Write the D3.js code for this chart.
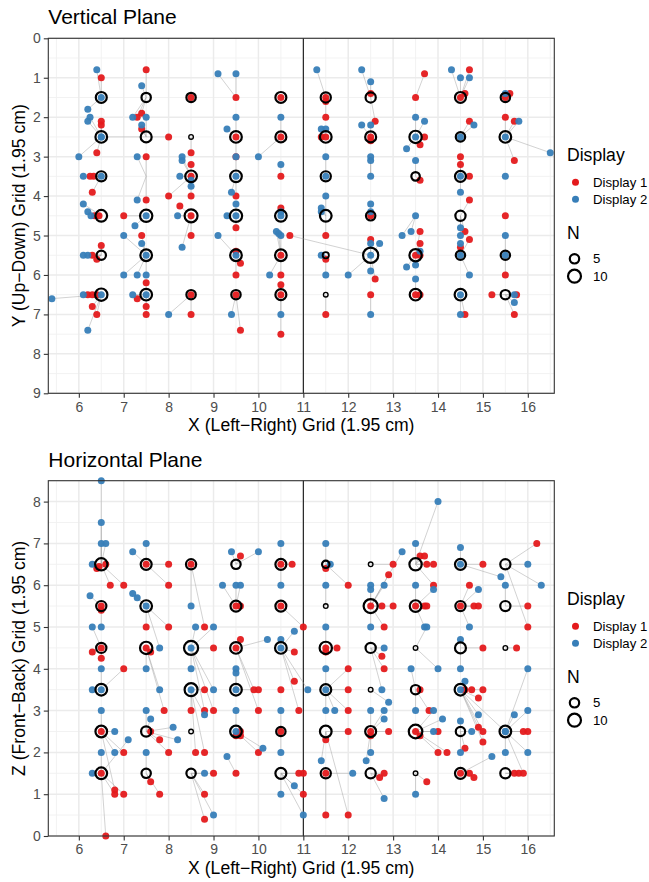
<!DOCTYPE html>
<html>
<head>
<meta charset="utf-8">
<script src="https://cdn.jsdelivr.net/npm/d3@7"></script>
<style>
  body { margin: 0; background: #fff; }
  svg { display: block; }
  text { font-family: "Liberation Sans", Arial, Helvetica, sans-serif; }
</style>
</head>
<body>
<svg id="chart" width="649" height="882"></svg>
<script>
// ---- Data -------------------------------------------------------------
// Each response: [responseX, responseY, targetX, targetY]
const displays = ["Display 1", "Display 2"];
const displayColors = ["#E41A1C", "#377EB8"];
const xTicks = [6, 7, 8, 9, 10, 11, 12, 13, 14, 15, 16];
const vertYTicks = [0, 1, 2, 3, 4, 5, 6, 7, 8, 9];
const horzZTicks = [0, 1, 2, 3, 4, 5, 6, 7, 8];
const sizeLegendValues = [5, 10];

const vertDisplay1 = [
  [6.5,1.0,6.5,1.5],[6.5,2.1,6.5,2.5],[6.5,2.2,6.5,2.5],[6.4,2.9,6.5,2.5],
  [6.25,3.5,6.5,3.5],[6.33,3.5,6.5,3.5],[6.3,3.9,6.5,3.5],
  [6.35,4.5,6.5,4.5],[6.45,4.5,6.5,4.5],[6.5,5.25,6.5,5.5],[6.3,5.5,6.5,5.5],[6.4,5.6,6.5,5.5],
  [6.2,6.5,6.5,6.5],[6.3,6.5,6.5,6.5],[6.4,6.5,6.5,6.5],[6.3,6.8,6.5,6.5],[6.4,7.0,6.5,6.5],
  [7.5,0.8,7.5,1.5],[7.3,2.0,7.5,1.5],[7.4,1.9,7.5,1.5],[7.4,2.3,7.5,2.5],[8.0,2.5,7.5,2.5],
  [7.5,3.0,7.5,3.5],[7.5,4.1,7.5,3.5],[7.0,4.5,7.5,4.5],[7.4,5.0,7.5,5.5],
  [7.5,6.2,7.5,6.5],[7.3,6.6,7.5,6.5],[7.5,6.8,7.5,6.5],[7.5,7.0,7.5,6.5],
  [8.5,1.5,8.5,1.5],[8.5,2.9,8.5,2.5],[8.5,3.2,8.5,3.5],[8.5,3.5,8.5,3.5],[8.0,4.0,8.5,3.5],[8.5,4.0,8.5,3.5],
  [8.25,4.25,8.5,4.5],[8.5,4.5,8.5,4.5],[8.5,5.0,8.5,4.5],[8.5,6.5,8.5,6.5],[8.5,7.0,8.5,6.5],
  [9.5,1.5,9.5,1.5],[9.5,2.5,9.5,2.5],[9.5,3.0,9.5,2.5],[9.5,4.0,9.5,3.5],[9.5,4.8,9.5,4.5],
  [9.5,5.4,9.5,5.5],[9.6,5.7,9.5,5.5],[9.5,6.0,9.5,5.5],[9.5,6.5,9.5,6.5],[9.6,7.4,9.5,6.5],
  [10.5,1.5,10.5,1.5],[10.5,2.5,10.5,2.5],[10.5,3.5,10.5,3.5],[10.5,4.3,10.5,4.5],[10.7,5.0,12.5,5.5],
  [10.5,5.5,10.5,5.5],[10.5,6.0,10.5,5.5],[10.5,6.25,10.5,6.5],[10.5,6.5,10.5,6.5],[10.5,7.5,10.5,6.5],
  [11.5,1.5,11.5,1.5],[11.5,1.6,11.5,1.5],[11.5,2.0,11.5,1.5],[11.4,2.5,11.5,2.5],[11.5,2.5,11.5,2.5],
  [11.5,5.0,11.5,4.5],[11.5,5.6,11.5,5.5],[11.5,7.0,11.5,6.5],
  [12.5,1.4,12.5,1.5],[12.6,2.1,12.5,1.5],[12.5,2.5,12.5,2.5],[12.5,2.6,12.5,2.5],[12.5,4.5,12.5,4.5],
  [12.5,5.1,12.5,5.5],[12.6,6.1,12.5,5.5],[12.5,6.5,12.5,6.5],
  [13.7,0.9,13.5,1.5],[13.5,1.5,13.5,1.5],[13.7,2.5,13.5,2.5],[13.6,2.7,13.5,2.5],[13.6,3.6,13.5,3.5],
  [13.6,4.9,13.5,5.5],[13.6,5.2,13.5,5.5],[13.5,5.5,13.5,5.5],[13.6,5.5,13.5,5.5],[13.5,6.5,13.5,6.5],[13.6,6.5,13.5,6.5],
  [14.7,0.8,14.5,1.5],[14.6,1.4,14.5,1.5],[14.5,1.5,14.5,1.5],[14.7,2.1,14.5,2.5],[14.5,3.0,14.5,3.5],[14.5,3.2,14.5,3.5],
  [14.7,3.5,14.5,3.5],[14.7,4.1,14.5,4.5],[14.6,4.9,14.5,4.5],[14.7,5.1,14.5,5.5],[14.5,5.3,14.5,5.5],[14.6,7.0,14.5,6.5],
  [15.6,1.4,15.5,1.5],[15.5,1.5,15.5,1.5],[15.5,2.0,15.5,2.5],[15.7,2.1,15.5,2.5],[15.7,3.1,15.5,2.5],
  [15.5,4.5,15.5,4.5],[15.5,6.0,15.5,5.5],[15.2,6.5,15.5,6.5],[15.75,6.5,15.5,6.5],[15.7,7.0,15.5,6.5]
];

const vertDisplay2 = [
  [6.4,0.8,6.5,1.5],[6.5,1.5,6.5,1.5],[6.2,1.8,6.5,1.5],[6.25,2.0,6.5,2.5],[6.2,2.1,6.5,2.5],[6.5,2.5,6.5,2.5],
  [6.5,2.5,7.5,2.5],[6.0,3.0,6.5,2.5],[6.1,3.5,6.5,3.5],[6.5,3.5,6.5,3.5],
  [6.1,4.2,6.5,4.5],[6.2,4.4,6.5,4.5],[6.27,4.5,6.5,4.5],[6.1,5.5,6.5,5.5],[6.2,5.5,6.5,5.5],
  [5.4,6.6,6.5,6.5],[6.1,6.5,6.5,6.5],[6.5,6.5,6.5,6.5],[6.2,7.4,6.5,6.5],
  [7.4,1.2,7.5,1.5],[7.2,2.0,7.5,1.5],[7.5,2.0,7.5,2.5],[7.4,2.2,7.5,2.5],[7.3,3.0,7.5,3.5],[7.3,4.1,7.5,3.5],
  [7.5,4.5,7.5,4.5],[7.25,4.75,7.5,4.5],[7.0,5.0,7.5,5.5],[7.4,5.2,7.5,5.5],[7.5,5.5,7.5,5.5],
  [7.0,6.0,7.5,5.5],[7.3,6.0,7.5,5.5],[7.5,6.0,7.5,5.5],[7.2,6.5,7.5,6.5],[7.5,6.5,7.5,6.5],
  [8.3,3.0,8.5,3.5],[8.3,3.1,8.5,3.5],[8.25,3.5,8.5,3.5],[8.5,3.6,8.5,3.5],[8.5,3.75,8.5,3.5],
  [8.2,4.5,8.5,4.5],[8.3,5.3,8.5,4.5],[8.0,7.0,8.5,6.5],
  [9.1,0.9,9.5,1.5],[9.5,0.9,9.5,1.5],[9.5,2.0,9.5,2.5],[9.3,2.3,9.5,2.5],[10.0,3.0,10.5,2.5],[9.5,3.0,9.5,3.5],
  [9.5,3.5,9.5,3.5],[9.4,3.9,9.5,3.5],[9.5,4.2,9.5,4.5],[9.3,4.5,9.5,4.5],[9.5,4.5,9.5,4.5],
  [9.1,5.0,9.5,5.5],[9.5,5.5,9.5,5.5],[9.4,7.0,9.5,6.5],
  [10.5,2.0,10.5,2.5],[10.5,3.2,10.5,3.5],[10.5,4.4,10.5,4.5],[10.5,4.5,10.5,4.5],
  [10.4,4.9,10.5,5.5],[10.45,4.95,10.5,5.5],[10.5,5.0,10.5,5.5],[10.25,6.0,10.5,5.5],[10.5,7.0,10.5,6.5],
  [11.3,0.8,11.5,1.5],[11.4,2.3,11.5,2.5],[11.5,2.3,11.5,2.5],[11.5,3.0,11.5,3.5],[11.5,3.5,11.5,3.5],
  [11.5,4.0,11.5,4.5],[11.4,4.3,11.5,4.5],[11.4,4.4,11.5,4.5],[11.4,5.5,11.5,5.5],[11.5,6.0,11.5,5.5],
  [12.3,0.8,12.5,1.5],[12.5,1.1,12.5,1.5],[12.3,2.2,12.5,2.5],[12.5,2.2,12.5,2.5],[12.5,3.0,12.5,3.5],
  [12.5,3.1,12.5,3.5],[12.5,3.5,12.5,3.5],[12.5,4.2,12.5,4.5],[12.5,4.4,12.5,4.5],
  [12.5,5.2,12.5,5.5],[12.7,5.2,12.5,5.5],[12.5,5.5,12.5,5.5],[12.5,5.9,12.5,5.5],[12.0,6.0,12.5,5.5],[12.5,7.0,12.5,6.5],
  [13.5,2.0,13.5,2.5],[13.7,2.1,13.5,2.5],[13.5,2.5,13.5,2.5],[13.3,2.8,13.5,2.5],[13.5,3.1,13.5,3.5],
  [13.5,4.5,13.5,4.5],[13.4,4.9,13.5,4.5],[13.2,5.0,13.5,4.5],[13.6,5.4,13.5,5.5],[13.3,5.8,13.5,5.5],
  [13.5,5.75,13.5,5.5],[13.5,6.1,13.5,6.5],
  [14.3,0.8,14.5,1.5],[14.5,1.0,14.5,1.5],[14.7,1.0,14.5,1.5],[14.8,2.2,14.5,2.5],[14.5,2.5,14.5,2.5],
  [14.5,3.5,14.5,3.5],[14.5,3.9,14.5,3.5],[14.5,4.8,14.5,4.5],[14.5,5.0,14.5,4.5],[14.5,5.2,14.5,5.5],
  [14.5,5.5,14.5,5.5],[14.7,6.0,14.5,5.5],[14.5,6.5,14.5,6.5],[14.5,7.0,14.5,6.5],
  [15.5,1.4,15.5,1.5],[15.8,2.1,15.5,2.5],[15.5,2.5,15.5,2.5],[16.5,2.9,15.5,2.5],[15.5,3.5,15.5,3.5],
  [15.5,5.0,15.5,5.5],[15.5,5.5,15.5,5.5],[15.7,6.5,15.5,6.5],[15.7,6.7,15.5,6.5]
];

const horzDisplay1 = [
  [6.4,6.4,6.5,6.5],[6.45,6.45,6.5,6.5],[6.6,6.5,6.5,6.5],[6.7,6.0,6.5,6.5],[7.0,6.0,6.5,6.5],
  [6.5,5.5,6.5,5.5],[6.5,5.4,6.5,5.5],[6.5,4.5,6.5,4.5],[6.3,4.4,6.5,4.5],[6.5,4.25,6.5,4.5],
  [7.0,4.0,6.5,3.5],[6.5,2.5,6.5,2.5],[7.0,2.0,6.5,2.5],[6.5,1.5,6.5,1.5],
  [6.8,1.1,6.5,2.5],[6.8,1.0,6.5,1.5],[7.0,1.0,6.5,1.5],[6.6,0.0,6.5,1.5],
  [7.5,6.5,7.5,6.5],[8.0,6.5,7.5,6.5],[8.0,6.0,7.5,6.5],[7.5,5.0,7.5,5.5],[8.0,5.0,7.5,5.5],
  [7.5,4.5,7.5,4.5],[7.6,4.4,7.5,4.5],[7.9,3.0,7.5,4.5],[7.6,2.5,7.5,2.5],[7.8,2.3,7.5,2.5],
  [8.0,2.0,7.5,2.5],[7.6,1.3,7.5,1.5],[7.8,1.0,7.5,1.5],
  [8.5,6.5,8.5,6.5],[8.8,5.0,8.5,6.5],[9.0,4.5,8.5,4.5],[8.8,3.5,8.5,3.5],[8.5,3.0,8.5,3.5],
  [8.8,3.0,8.5,4.5],[9.0,3.0,8.5,4.5],[8.6,2.0,8.5,3.5],[8.8,2.0,8.5,3.5],[9.0,1.5,8.5,1.5],
  [8.8,1.0,8.5,1.5],[8.8,0.4,8.5,1.5],
  [9.6,6.7,9.5,6.5],[9.5,5.5,9.5,5.5],[9.6,5.5,9.5,5.5],[9.6,4.7,9.5,4.5],[9.5,4.5,9.5,4.5],
  [9.9,3.5,9.5,4.5],[10.0,3.5,9.5,3.5],[10.0,3.0,9.5,4.5],[9.6,2.5,9.5,2.5],[9.5,2.4,9.5,2.5],
  [9.6,2.4,9.5,2.5],[10.0,2.0,9.5,2.5],[9.5,1.5,9.5,1.5],
  [10.5,6.5,10.5,6.5],[10.75,6.5,10.5,6.5],[10.5,5.5,10.5,5.5],[11.0,5.0,10.5,5.5],[10.8,4.4,10.5,4.5],
  [10.8,3.7,10.5,4.5],[10.9,3.0,10.5,4.5],[10.5,3.5,10.5,3.5],[10.5,2.5,10.5,2.5],
  [10.9,1.5,10.5,1.5],[11.0,1.5,10.5,1.5],[11.0,1.0,10.5,1.5],
  [11.5,6.4,11.5,6.5],[12.0,6.0,11.5,6.5],[11.5,4.5,11.5,4.5],[11.75,4.5,11.5,4.5],[11.5,4.4,11.5,4.5],
  [12.0,4.0,11.5,3.5],[12.0,3.5,11.5,3.5],[12.0,3.0,11.5,3.5],[12.0,2.5,11.5,2.5],[11.5,2.3,11.5,2.5],
  [11.5,1.5,11.5,1.5],[11.5,0.5,11.5,1.5],[12.0,0.5,11.5,2.5],
  [13.0,6.5,12.5,6.5],[12.9,6.25,12.5,5.5],[12.5,5.5,12.5,5.5],[12.75,5.5,12.5,5.5],[13.0,5.5,12.5,5.5],
  [12.8,5.0,12.5,5.5],[12.75,4.3,12.5,4.5],[12.8,4.0,12.5,4.5],[12.5,2.5,12.5,2.5],[12.9,2.5,12.5,2.5],
  [12.5,2.4,12.5,2.5],[12.8,1.5,12.5,1.5],[12.7,1.4,12.5,1.5],
  [13.6,6.7,13.5,6.5],[13.7,6.7,13.5,6.5],[13.75,6.5,13.5,6.5],[13.9,6.5,13.5,6.5],[13.9,6.0,13.5,6.5],
  [13.5,5.5,13.5,5.5],[13.7,5.5,13.5,5.5],[13.75,5.5,13.5,5.5],[13.6,3.5,13.5,3.5],[13.8,3.0,13.5,3.5],
  [13.5,2.5,13.5,2.5],[13.6,2.4,13.5,2.5],[14.0,2.5,13.5,2.5],[14.0,2.0,13.5,2.5],[14.2,2.0,13.5,2.5],[13.75,1.3,13.5,1.5],
  [15.0,6.5,14.5,6.5],[14.7,6.0,14.5,5.5],[14.5,5.5,14.5,5.5],[14.8,5.5,14.5,5.5],[14.9,5.5,14.5,5.5],
  [15.0,4.5,14.5,4.5],[14.6,3.5,14.5,3.5],[14.75,3.5,14.5,3.5],[15.0,3.5,14.5,3.5],[14.9,3.3,14.5,3.5],
  [14.9,2.6,14.5,3.5],[15.0,2.5,14.5,3.5],[15.0,2.25,14.5,3.5],[14.6,2.1,14.5,2.5],
  [14.5,1.5,14.5,1.5],[14.7,1.5,14.5,1.5],[14.8,1.4,14.5,1.5],
  [16.2,7.0,15.5,6.5],[16.0,5.5,15.5,5.5],[16.0,5.0,15.5,6.5],[15.75,4.5,15.5,4.5],[15.9,2.5,15.5,2.5],
  [16.0,2.5,15.5,2.5],[15.7,1.5,15.5,1.5],[15.8,1.5,15.5,1.5],[15.9,1.5,15.5,2.5]
];

const horzDisplay2 = [
  [6.5,8.5,6.5,6.5],[6.5,7.5,6.5,6.5],[6.5,7.0,6.5,6.5],[6.6,7.0,6.5,6.5],[6.3,6.5,6.5,6.5],
  [6.25,5.75,6.5,5.5],[6.3,5.0,6.5,4.5],[6.5,5.0,6.5,5.5],[6.5,4.0,6.5,3.5],[6.3,3.5,6.5,3.5],
  [6.5,3.5,6.5,3.5],[6.5,3.0,6.5,2.5],[6.8,2.5,6.5,2.5],[7.1,2.3,6.5,1.5],[6.5,2.0,6.5,1.5],
  [6.8,2.0,6.5,2.5],[6.3,1.5,6.5,1.5],
  [7.2,6.8,7.5,6.5],[7.5,7.0,7.5,6.5],[7.2,5.8,7.5,5.5],[7.3,5.7,7.5,5.5],[7.5,5.5,7.5,5.5],
  [7.8,4.5,7.5,5.5],[7.5,4.0,7.5,4.5],[7.8,3.5,7.5,4.5],[7.5,3.0,7.5,2.5],[7.6,2.8,7.5,2.5],
  [8.1,2.6,7.5,2.5],[8.2,2.3,7.5,2.5],[7.5,2.0,7.5,1.5],
  [8.5,5.5,8.5,6.5],[8.6,5.0,8.5,4.5],[9.0,5.0,8.5,4.5],[8.5,4.5,8.5,4.5],[8.5,4.0,8.5,4.5],
  [8.5,3.5,8.5,3.5],[9.0,3.5,8.5,4.5],[8.8,2.9,8.5,3.5],[8.8,1.5,8.5,1.5],[9.0,0.5,8.5,1.5],
  [9.4,6.8,9.5,6.5],[10.0,6.8,9.5,6.5],[9.2,6.0,9.5,5.5],[9.5,6.0,9.5,5.5],[9.6,6.0,9.5,5.5],
  [10.2,4.7,9.5,4.5],[9.5,4.0,9.5,3.5],[9.5,3.9,9.5,3.5],[9.5,3.5,9.5,3.5],[9.5,3.0,9.5,2.5],
  [9.5,2.5,9.5,2.5],[10.1,2.1,9.5,2.5],[9.3,1.9,9.5,1.5],
  [10.5,7.0,10.5,6.5],[10.5,6.0,10.5,6.5],[10.8,4.9,10.5,4.5],[10.5,4.7,10.5,4.5],[10.5,4.5,10.5,4.5],
  [11.1,3.5,10.5,4.5],[10.5,3.0,10.5,2.5],[10.5,2.0,10.5,2.5],[10.8,1.2,10.5,1.5],[10.5,1.0,10.5,1.5],[11.0,0.5,10.5,1.5],
  [11.5,7.0,11.5,6.5],[11.6,6.5,11.5,6.5],[11.5,6.0,11.5,5.5],[11.5,5.0,11.5,4.5],[11.5,4.0,11.5,3.5],
  [11.5,3.5,11.5,3.5],[11.5,3.0,11.5,3.5],[11.7,3.0,11.5,3.5],[11.4,1.8,11.5,2.5],[12.1,1.5,11.5,1.5],
  [13.2,6.8,12.5,5.5],[12.5,6.0,12.5,5.5],[12.5,5.9,12.5,5.5],[12.8,6.0,12.5,5.5],[12.5,5.0,12.5,5.5],
  [12.8,4.5,12.5,4.5],[12.75,3.5,12.5,4.5],[12.9,3.2,12.5,3.5],[12.5,3.0,12.5,2.5],[12.8,3.0,12.5,2.5],
  [12.8,2.8,12.5,2.5],[12.5,2.0,12.5,2.5],[12.4,1.8,12.5,2.5],[12.8,0.9,12.5,1.5],
  [14.0,8.0,13.5,6.5],[13.5,7.0,13.5,6.5],[13.5,6.0,13.5,5.5],[13.9,5.9,13.5,5.5],[13.7,5.0,13.5,5.5],
  [13.75,5.0,13.5,4.5],[13.4,4.0,13.5,3.5],[14.0,4.0,13.5,4.5],[13.5,3.0,13.5,3.5],[13.9,3.0,13.5,2.5],
  [14.1,2.8,13.5,2.5],[13.9,2.5,13.5,2.5],[13.5,1.0,13.5,1.5],
  [14.5,6.9,14.5,6.5],[14.5,6.5,14.5,6.5],[15.4,6.2,14.5,6.5],[14.9,5.9,14.5,5.5],[14.7,5.0,14.5,5.5],
  [14.5,4.7,14.5,4.5],[14.5,4.0,14.5,4.5],[14.6,3.7,14.5,3.5],[14.5,3.5,14.5,3.5],[14.9,2.9,14.5,3.5],
  [14.5,2.75,14.5,2.5],[14.75,2.5,14.5,2.5],[14.5,2.0,14.5,2.5],[15.2,1.9,14.5,1.5],[15.5,2.5,14.5,3.5],
  [16.0,6.5,15.5,6.5],[15.5,6.0,15.5,5.5],[16.3,6.0,15.5,6.5],[16.0,4.0,15.5,2.5],[15.5,2.5,15.5,2.5],
  [16.0,3.0,15.5,2.5],[15.7,2.9,15.5,2.5],[15.5,2.0,15.5,2.5],[16.0,2.0,15.5,2.5]
];

// Targets: [x, y, N]
const vertTargets = [
  [6.5,1.5,7],[7.5,1.5,5],[8.5,1.5,5],[10.5,1.5,7],[11.5,1.5,6],[12.5,1.5,6],[14.5,1.5,7],[15.5,1.5,5],
  [6.5,2.5,8],[7.5,2.5,7],[8.5,2.5,1],[9.5,2.5,8],[10.5,2.5,7],[11.5,2.5,8],[12.5,2.5,7],[13.5,2.5,9],[14.5,2.5,5],[15.5,2.5,8],
  [6.5,3.5,6],[8.5,3.5,8],[9.5,3.5,8],[11.5,3.5,6],[13.5,3.5,4],[14.5,3.5,7],
  [6.5,4.5,8],[7.5,4.5,9],[8.5,4.5,10],[9.5,4.5,9],[10.5,4.5,8],[11.5,4.5,8],[12.5,4.5,5],[14.5,4.5,6],
  [6.5,5.5,5],[7.5,5.5,8],[9.5,5.5,8],[10.5,5.5,8],[11.5,5.5,2],[12.5,5.5,14],[13.5,5.5,9],[14.5,5.5,5],[15.5,5.5,5],
  [6.5,6.5,9],[7.5,6.5,8],[8.5,6.5,5],[9.5,6.5,5],[10.5,6.5,7],[11.5,6.5,1],[13.5,6.5,8],[14.5,6.5,8],[15.5,6.5,5]
];

const horzTargets = [
  [6.5,6.5,9],[7.5,6.5,7],[8.5,6.5,6],[9.5,6.5,5],[10.5,6.5,7],[11.5,6.5,3],[12.5,6.5,1],[13.5,6.5,9],[14.5,6.5,7],[15.5,6.5,6],
  [6.5,5.5,6],[7.5,5.5,8],[9.5,5.5,7],[10.5,5.5,7],[11.5,5.5,1],[12.5,5.5,12],[13.5,5.5,8],[14.5,5.5,6],[15.5,5.5,6],
  [6.5,4.5,6],[7.5,4.5,9],[8.5,4.5,12],[9.5,4.5,8],[10.5,4.5,8],[11.5,4.5,9],[12.5,4.5,6],[13.5,4.5,1],[14.5,4.5,7],[15.5,4.5,1],
  [6.5,3.5,8],[8.5,3.5,10],[9.5,3.5,8],[11.5,3.5,7],[12.5,3.5,1],[13.5,3.5,5],[14.5,3.5,8],
  [6.5,2.5,8],[7.5,2.5,6],[8.5,2.5,1],[9.5,2.5,8],[10.5,2.5,5],[11.5,2.5,8],[12.5,2.5,7],[13.5,2.5,11],[14.5,2.5,5],[15.5,2.5,8],
  [6.5,1.5,8],[7.5,1.5,5],[8.5,1.5,5],[10.5,1.5,7],[11.5,1.5,6],[12.5,1.5,6],[13.5,1.5,1],[14.5,1.5,7],[15.5,1.5,6]
];

// ---- Drawing ----------------------------------------------------------
const svg = d3.select("#chart");
const xDomain = [5.32, 16.59];
const sizeScale = d3.scaleSqrt().domain([1, 14]).range([2.3, 7.6]);
const ringWidth = r => Math.min(2.2, r * 0.6);
const TEXT_GREY = "#4D4D4D";

function drawPanel(cfg) {
  const g = svg.append("g");
  const x = d3.scaleLinear().domain(xDomain).range([cfg.left, cfg.right]);
  const y = d3.scaleLinear().domain(cfg.yDomain).range(cfg.yRange);
  const top = Math.min(...cfg.yRange), bottom = Math.max(...cfg.yRange);
  const yMax = Math.max(...cfg.yDomain);

  // panel background + grid
  g.append("rect").attr("x", cfg.left).attr("y", top)
    .attr("width", cfg.right - cfg.left).attr("height", bottom - top).attr("fill", "#fff");

  const xMinor = d3.range(5.5, 16.6, 1);
  const yMinor = d3.range(0.5, yMax + 0.01, 1);
  const grid = g.append("g");
  grid.selectAll(".xminor").data(xMinor).join("line")
    .attr("x1", d => x(d)).attr("x2", d => x(d)).attr("y1", top).attr("y2", bottom)
    .attr("stroke", "#F0F0F0").attr("stroke-width", 0.9);
  grid.selectAll(".yminor").data(yMinor).join("line")
    .attr("x1", cfg.left).attr("x2", cfg.right).attr("y1", d => y(d)).attr("y2", d => y(d))
    .attr("stroke", "#F0F0F0").attr("stroke-width", 0.9);
  grid.selectAll(".xmajor").data(xTicks).join("line")
    .attr("x1", d => x(d)).attr("x2", d => x(d)).attr("y1", top).attr("y2", bottom)
    .attr("stroke", "#EBEBEB").attr("stroke-width", 1.5);
  grid.selectAll(".ymajor").data(cfg.yTicks).join("line")
    .attr("x1", cfg.left).attr("x2", cfg.right).attr("y1", d => y(d)).attr("y2", d => y(d))
    .attr("stroke", "#EBEBEB").attr("stroke-width", 1.5);

  // midline at x = 11
  g.append("line").attr("x1", x(11)).attr("x2", x(11)).attr("y1", top).attr("y2", bottom)
    .attr("stroke", "#000").attr("stroke-width", 1);

  const all = [];
  cfg.series.forEach((arr, i) => arr.forEach(d => all.push({ rx: d[0], ry: d[1], tx: d[2], ty: d[3], k: i })));

  // segments from target to response
  g.append("g").selectAll("line").data(all).join("line")
    .attr("x1", d => x(d.tx)).attr("y1", d => y(d.ty))
    .attr("x2", d => x(d.rx)).attr("y2", d => y(d.ry))
    .attr("stroke", "#A0A0A0").attr("stroke-opacity", 0.6).attr("stroke-width", 0.8);

  // responses
  g.append("g").selectAll("circle").data(all).join("circle")
    .attr("cx", d => x(d.rx)).attr("cy", d => y(d.ry)).attr("r", 3.5)
    .attr("fill", d => displayColors[d.k]).attr("fill-opacity", 0.95);

  // targets sized by N
  g.append("g").selectAll("circle").data(cfg.targets).join("circle")
    .attr("cx", d => x(d[0])).attr("cy", d => y(d[1])).attr("r", d => sizeScale(d[2]))
    .attr("fill", "none").attr("stroke", "#000").attr("stroke-width", d => ringWidth(sizeScale(d[2])));

  // border
  g.append("rect").attr("x", cfg.left).attr("y", top)
    .attr("width", cfg.right - cfg.left).attr("height", bottom - top)
    .attr("fill", "none").attr("stroke", "#333333").attr("stroke-width", 1.1);

  // axes
  const xAxis = g.append("g").attr("transform", `translate(0,${bottom})`)
    .call(d3.axisBottom(x).tickValues(xTicks).tickSize(4.5).tickPadding(4).tickFormat(d3.format("d")));
  const yAxis = g.append("g").attr("transform", `translate(${cfg.left},0)`)
    .call(d3.axisLeft(y).tickValues(cfg.yTicks).tickSize(4.5).tickPadding(3).tickFormat(d3.format("d")));
  [xAxis, yAxis].forEach(a => {
    a.select(".domain").remove();
    a.selectAll(".tick line").attr("stroke", "#333333").attr("stroke-width", 1.1);
    a.selectAll(".tick text").attr("fill", TEXT_GREY).style("font-size", "14px")
      .style("font-family", "'Liberation Sans', Arial, sans-serif");
  });

  // titles
  g.append("text").attr("x", cfg.left).attr("y", top - 14).text(cfg.title)
    .style("font-size", "21px").attr("fill", "#000");
  g.append("text").attr("x", (cfg.left + cfg.right) / 2).attr("y", bottom + 38)
    .attr("text-anchor", "middle").style("font-size", "17.6px").text("X (Left\u2212Right) Grid (1.95 cm)");
  g.append("text").attr("transform", `translate(25,${(top + bottom) / 2}) rotate(-90)`)
    .attr("text-anchor", "middle").style("font-size", "17.6px").text(cfg.yTitle);

  // legend
  const lg = g.append("g").attr("transform", `translate(567,${cfg.legendTop})`);
  lg.append("text").attr("x", 0).attr("y", 0).style("font-size", "17.6px").text("Display");
  displays.forEach((name, i) => {
    const yy = 21 + i * 17;
    lg.append("circle").attr("cx", 8.5).attr("cy", yy).attr("r", 3.5).attr("fill", displayColors[i]);
    lg.append("text").attr("x", 26).attr("y", yy + 4.7).style("font-size", "13.2px").text(name);
  });
  lg.append("text").attr("x", 0).attr("y", 77.8).style("font-size", "17.6px").text("N");
  sizeLegendValues.forEach((v, i) => {
    const yy = 97.5 + i * 17.4;
    lg.append("circle").attr("cx", 7.5).attr("cy", yy).attr("r", sizeScale(v))
      .attr("fill", "none").attr("stroke", "#000").attr("stroke-width", ringWidth(sizeScale(v)));
    lg.append("text").attr("x", 26).attr("y", yy + 4.7).style("font-size", "13.2px").text(v);
  });
}

drawPanel({
  title: "Vertical Plane",
  yTitle: "Y (Up\u2212Down) Grid (1.95 cm)",
  left: 48.3, right: 554.3,
  yDomain: [0, 9], yRange: [38.3, 393.3],
  yTicks: vertYTicks,
  series: [vertDisplay1, vertDisplay2],
  targets: vertTargets,
  legendTop: 161.3
});

drawPanel({
  title: "Horizontal Plane",
  yTitle: "Z (Front\u2212Back) Grid (1.95 cm)",
  left: 48.3, right: 554.3,
  yDomain: [0, 8.5], yRange: [836, 480.7],
  yTicks: horzZTicks,
  series: [horzDisplay1, horzDisplay2],
  targets: horzTargets,
  legendTop: 605.3
});
</script>
</body>
</html>
